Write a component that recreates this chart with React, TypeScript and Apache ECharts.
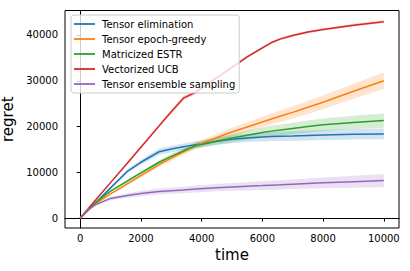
import React, { useEffect, useRef } from "react";
import * as echarts from "echarts";

const times = [0, 200, 500, 1000, 1550, 2000, 2600, 3000, 3400, 3800, 4500, 5000, 5500, 6000, 6300, 6600, 7000, 7500, 8000, 9000, 10000];

const seriesNames = [
  "Tensor elimination",
  "Tensor epoch-greedy",
  "Matricized ESTR",
  "Vectorized UCB",
  "Tensor ensemble sampling",
];
const colors = ["#1f77b4", "#ff7f0e", "#2ca02c", "#d62728", "#9467bd"];

// mean regret
const elimination = [0, 1300, 3300, 6600, 10200, 12200, 14500, 15100, 15600, 16050, 16800, 17200, 17500, 17700, 17800, 17880, 17950, 18050, 18150, 18300, 18400];
const epochGreedy = [0, 1300, 3100, 5300, 7500, 9300, 11700, 13100, 14500, 15800, 17600, 18800, 19900, 21000, 21650, 22300, 23100, 24200, 25300, 27700, 30000];
const estr = [0, 1400, 3400, 5900, 8100, 9900, 12200, 13500, 14700, 15800, 16800, 17500, 18100, 18700, 19000, 19250, 19600, 20000, 20400, 20900, 21300];
const ucb = [0, 1550, 3880, 7750, 12000, 15500, 20150, 23250, 26200, 27500, 30700, 32950, 35200, 37200, 38350, 39150, 39900, 40650, 41200, 42150, 42900];
const ensemble = [0, 1600, 2900, 4300, 4950, 5400, 5800, 6000, 6150, 6350, 6650, 6800, 6950, 7100, 7200, 7280, 7400, 7550, 7700, 7950, 8200];

// half-width of the shaded band
const eliminationSpread = [0, 100, 200, 300, 400, 550, 700, 700, 700, 750, 800, 850, 900, 950, 980, 1010, 1050, 1100, 1100, 1150, 1200];
const epochGreedySpread = [0, 50, 100, 200, 300, 400, 500, 600, 650, 700, 850, 950, 1050, 1150, 1200, 1280, 1350, 1450, 1500, 1650, 1800];
const estrSpread = [0, 50, 100, 200, 300, 350, 450, 500, 600, 650, 800, 900, 1000, 1100, 1150, 1200, 1250, 1300, 1350, 1450, 1550];
const ucbSpread = [0, 100, 150, 200, 250, 300, 400, 450, 500, 400, 350, 300, 300, 300, 300, 300, 300, 300, 300, 300, 300];
const ensembleSpread = [0, 100, 200, 400, 500, 600, 650, 700, 700, 750, 800, 850, 900, 950, 980, 1010, 1050, 1100, 1150, 1300, 1450];

const xTicks = [0, 2000, 4000, 6000, 8000, 10000];
const yTicks = [0, 10000, 20000, 30000, 40000];

const means = [elimination, epochGreedy, estr, ucb, ensemble];
const spreads = [eliminationSpread, epochGreedySpread, estrSpread, ucbSpread, ensembleSpread];

function hexToRgba(hex: string, a: number) {
  const n = parseInt(hex.slice(1), 16);
  return `rgba(${(n >> 16) & 255},${(n >> 8) & 255},${n & 255},${a})`;
}

export default function App() {
  const ref = useRef<HTMLDivElement>(null);
  useEffect(() => {
    if (!ref.current) return;
    const chart = echarts.init(ref.current, null, { renderer: "svg" });
    const font = "DejaVu Sans";
    const series: any[] = [];
    means.forEach((m, k) => {
      const sp = spreads[k];
      series.push({
        type: "custom",
        name: seriesNames[k] + " band",
        silent: true,
        clip: true,
        data: [0],
        renderItem: (params: any, api: any) => {
          if (params.dataIndex !== 0) return null;
          const upper = times.map((t, i) => api.coord([t, m[i] + sp[i]]));
          const lower = times.map((t, i) => api.coord([t, m[i] - sp[i]])).reverse();
          return {
            type: "polygon",
            shape: { points: upper.concat(lower) },
            style: { fill: hexToRgba(colors[k], 0.2), stroke: "none" },
          };
        },
      });
      series.push({
        type: "line",
        name: seriesNames[k],
        data: times.map((t, i) => [t, m[i]]),
        symbol: "none",
        showSymbol: false,
        silent: true,
        lineStyle: { color: colors[k], width: 1.5 },
        itemStyle: { color: colors[k] },
        emphasis: { disabled: true },
      });
    });

    chart.setOption({
      animation: false,
      grid: {
        left: 65,
        right: 11,
        top: 10.5,
        bottom: 43,
        show: true,
        borderColor: "#000",
        borderWidth: 1,
        backgroundColor: "#fff",
        outerBoundsMode: "none",
      },
      legend: {
        data: seriesNames.map((n) => ({ name: n, icon: "rect" })),
        orient: "vertical",
        left: 71,
        top: 15,
        padding: [3, 4, 3, 3],
        itemWidth: 21,
        itemHeight: 1.8,
        itemGap: 3,
        backgroundColor: "rgba(255,255,255,0.8)",
        borderColor: "#cccccc",
        borderWidth: 1,
        borderRadius: 3,
        selectedMode: false,
        textStyle: {
          fontFamily: font,
          fontSize: 10,
          color: "#000",
          lineHeight: 12,
          padding: [0, 0, 0, 2],
        },
      },
      xAxis: {
        type: "value",
        min: -500,
        max: 10500,
        name: "time",
        nameLocation: "middle",
        nameGap: 18,
        nameTextStyle: { fontFamily: font, fontSize: 15, color: "#000" },
        splitLine: { show: false },
        axisLine: { show: true, lineStyle: { color: "#000", width: 1 } },
        axisTick: { show: true, inside: false, length: 3.5, lineStyle: { color: "#000" }, customValues: xTicks },
        axisLabel: {
          fontFamily: font,
          fontSize: 10,
          color: "#000",
          margin: 5,
          customValues: xTicks,
          formatter: (v: number) => String(v),
        },
      },
      yAxis: {
        type: "value",
        min: -2160,
        max: 45350,
        name: "regret",
        nameLocation: "middle",
        nameGap: 36,
        nameTextStyle: { fontFamily: font, fontSize: 15, color: "#000" },
        splitLine: { show: false },
        axisLine: { show: true, lineStyle: { color: "#000", width: 1 } },
        axisTick: { show: true, inside: false, length: 3.5, lineStyle: { color: "#000" }, customValues: yTicks },
        axisLabel: {
          fontFamily: font,
          fontSize: 10,
          color: "#000",
          margin: 7,
          customValues: yTicks,
          formatter: (v: number) => String(v),
        },
      },
      series,
    });
    return () => chart.dispose();
  }, []);
  return (
    <div
      ref={ref}
      style={{ position: "absolute", left: 0, top: 0, width: 410, height: 271, background: "#fff" }}
    />
  );
}
